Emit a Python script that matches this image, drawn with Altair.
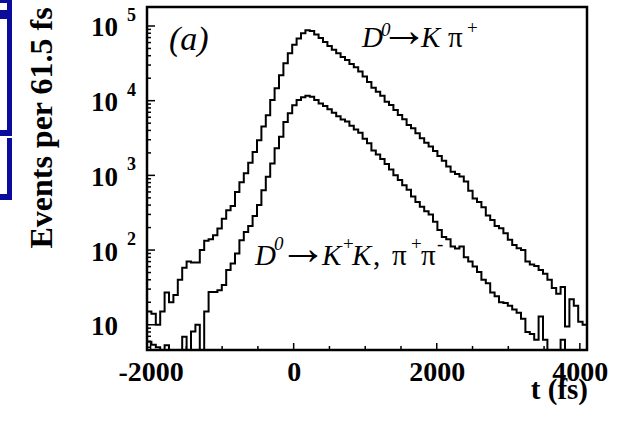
import altair as alt
import pandas as pd

# ---------------- data ----------------
BIN_W = 61.5
X_MIN = -2050.0
N_BINS = 100

# D0 -> K pi  (events per bin)
kpi = [15, 14, 10, 15, 27, 20, 25, 40, 58, 70,
       68, 68, 100, 133, 140, 158, 195, 263, 340, 390,
       600, 810, 1070, 1480, 2050, 2960, 4500, 6400, 10200, 14700,
       21900, 31600, 43000, 56000, 68000, 80000, 88000, 86000, 77000, 69000,
       61000, 54000, 48000, 43000, 38500, 35000, 31000, 28000, 24500, 21000,
       17800, 14900, 13200, 11600, 9700, 8760, 7510, 6440, 5640, 4730,
       4270, 3660, 3130, 2740, 2430, 2120, 1820, 1570, 1310, 1120,
       1040, 964, 830, 620, 490, 440, 374, 290, 253, 210,
       196, 168, 137, 117, 106, 100, 70, 64, 61, 54,
       48, 40, 31, 26, 32, 9.5, 22, 18, 11, 10]

# D0 -> K+K-, pi+pi-  (events per bin, 0 = empty bin)
kk = [5.9, 5.4, 5.0, 0, 5.3, 0, 0, 0, 6.9, 0,
      8.1, 10, 0, 15, 27.5, 27.5, 29, 34, 54, 66,
      90, 135, 175, 210, 285, 400, 630, 960, 1440, 2300,
      3300, 5200, 6800, 8700, 10200, 11100, 11600, 11300, 10200, 9200,
      8500, 7700, 6900, 6200, 5600, 5250, 4600, 4100, 3720, 3100,
      2700, 2150, 1900, 1650, 1420, 1200, 1000, 870, 740, 640,
      520, 440, 380, 330, 300, 240, 185, 150, 140, 112,
      105, 112, 80, 70, 60, 51, 40, 36, 27, 24,
      20, 19.5, 18, 16, 14.5, 12, 8, 7.5, 6.3, 12.9,
      6.3, 0, 0, 0, 6.3, 0, 0, 0, 0, 0]

x_major = [-2000, 0, 2000, 4000]
x_minor = [-1500, -1000, -500, 500, 1000, 1500, 2500, 3000, 3500]
y_decades = [10, 100, 1000, 10000, 100000]
y_exponents = ["", "2", "3", "4", "5"]
y_minor = [5, 6, 7, 8, 9, 20, 30, 40, 50, 60, 70, 80, 90,
           200, 300, 400, 500, 600, 700, 800, 900,
           2000, 3000, 4000, 5000, 6000, 7000, 8000, 9000,
           20000, 30000, 40000, 50000, 60000, 70000, 80000, 90000]

# ---------------- layout ----------------
L, T = 147, 7
W, H = 440, 343
FONT = "Liberation Serif"


def hist_df(vals):
    xs = [X_MIN + BIN_W * i for i in range(N_BINS)] + [X_MIN + BIN_W * N_BINS]
    ys = list(vals) + [vals[-1]]
    ys = [v if v > 0 else 1.0 for v in ys]
    return pd.DataFrame({"x": xs, "y": ys})


xscale = alt.Scale(domain=[X_MIN, X_MIN + BIN_W * N_BINS], nice=False, zero=False)
yscale = alt.Scale(type="log", domain=[4.59, 179600], nice=False)
xaxis = alt.Axis(values=x_major, title=None, ticks=False, domain=False, grid=False,
                 labelFont=FONT, labelFontSize=28, labelFontWeight="bold",
                 labelColor="black", labelPadding=8,
                 labelExpr="(datum.value < 0 ? '-' : '') + abs(datum.value)")

one = pd.DataFrame({"a": [0]})


def txt(s, x, y, size, style="normal", weight="normal", align="left", angle=0,
        baseline="alphabetic", font=FONT):
    kw = dict(text=s, fontSize=size, font=font, fontStyle=style, fontWeight=weight,
              align=align, baseline=baseline, color="black")
    if angle:
        kw["angle"] = angle
    return alt.Chart(one).mark_text(**kw).encode(x=alt.value(x - L), y=alt.value(y - T))


def blue(x1, x2, y1, y2):
    return alt.Chart(one).mark_rect(color="#0c0c9c").encode(
        x=alt.value(x1 - L), x2=alt.value(x2 - L), y=alt.value(y1 - T), y2=alt.value(y2 - T))


h1 = alt.Chart(hist_df(kpi)).mark_line(interpolate="step-after", clip=True, color="black", strokeWidth=2).encode(
    x=alt.X("x:Q", scale=xscale, axis=xaxis), y=alt.Y("y:Q", scale=yscale, axis=None))
h2 = alt.Chart(hist_df(kk)).mark_line(interpolate="step-after", clip=True, color="black", strokeWidth=2).encode(
    x=alt.X("x:Q", scale=xscale, axis=xaxis), y=alt.Y("y:Q", scale=yscale, axis=None))

xt_major = alt.Chart(pd.DataFrame({"x": x_major})).mark_rule(color="black", strokeWidth=1.5).encode(
    x=alt.X("x:Q", scale=xscale, axis=xaxis), y=alt.value(H), y2=alt.value(H - 7))
xt_minor = alt.Chart(pd.DataFrame({"x": x_minor})).mark_rule(color="black", strokeWidth=1.5).encode(
    x=alt.X("x:Q", scale=xscale, axis=xaxis), y=alt.value(H), y2=alt.value(H - 4))
yt_major = alt.Chart(pd.DataFrame({"y": y_decades})).mark_rule(color="black", strokeWidth=1.5).encode(
    y=alt.Y("y:Q", scale=yscale, axis=None), x=alt.value(0), x2=alt.value(8))
yt_minor = alt.Chart(pd.DataFrame({"y": y_minor})).mark_rule(color="black", strokeWidth=1.5).encode(
    y=alt.Y("y:Q", scale=yscale, axis=None), x=alt.value(0), x2=alt.value(4))

ylab_df = pd.DataFrame({"y": y_decades, "base": ["10"] * 5, "exp": y_exponents})
ylab_base = alt.Chart(ylab_df).mark_text(font=FONT, fontSize=27, fontWeight="bold", align="right",
                                         baseline="alphabetic", dy=10.5, color="black").encode(
    y=alt.Y("y:Q", scale=yscale, axis=None), x=alt.value(118 - L), text="base:N")
ylab_exp = alt.Chart(ylab_df).mark_text(font=FONT, fontSize=18, fontWeight="bold", align="left",
                                        baseline="alphabetic", dy=-5, color="black").encode(
    y=alt.Y("y:Q", scale=yscale, axis=None), x=alt.value(127 - L), text="exp:N")

layers = [h1, h2, xt_major, xt_minor, yt_major, yt_minor, ylab_base, ylab_exp,
          txt("Events per 61.5 fs", 42, 128, 32, weight="bold", align="center", angle=270, baseline="middle"),
          txt("t (fs)", 588, 399, 29, weight="bold", align="right"),
          txt("(a)", 169, 50, 34, style="italic"),
          # upper label  D0 -> K pi+
          txt("D", 362, 47, 29, style="italic"),
          txt("0", 381, 36, 19, style="italic"),
          txt("\u2192", 380, 46, 48),
          txt("K", 421, 47, 29, style="italic"),
          txt("\u03c0", 448, 47, 29),
          txt("+", 467, 34, 19),
          # lower label  D0 -> K+K-, pi+pi-
          txt("D", 255, 265, 29, style="italic"),
          txt("0", 274, 250, 19, style="italic"),
          txt("\u2192", 279, 264, 48),
          txt("K", 322, 265, 29, style="italic"),
          txt("+", 343, 250, 19),
          txt("K", 352, 265, 29, style="italic"),
          txt(",", 373, 265, 29),
          txt("\u03c0", 392, 265, 29),
          txt("+", 411, 250, 19),
          txt("\u03c0", 421, 265, 29),
          txt("-", 437, 250, 19),
          # clipped neighbouring-panel frame (blue)
          blue(7, 12, 0, 133), blue(0, 12, 130, 136), blue(7, 12, 138, 200), blue(0, 12, 194, 200),
          blue(0, 12, 0, 3), blue(0, 9, 10, 19)]

chart = alt.layer(*layers).properties(
    width=W, height=H,
    autosize=alt.AutoSizeParams(type="none"),
    padding={"left": L, "top": T, "right": 619 - L - W, "bottom": 422 - T - H},
    background="white",
).configure_view(stroke="black", strokeWidth=2.5)

chart.save("out.html", embed_options={"renderer": "svg", "actions": False})
